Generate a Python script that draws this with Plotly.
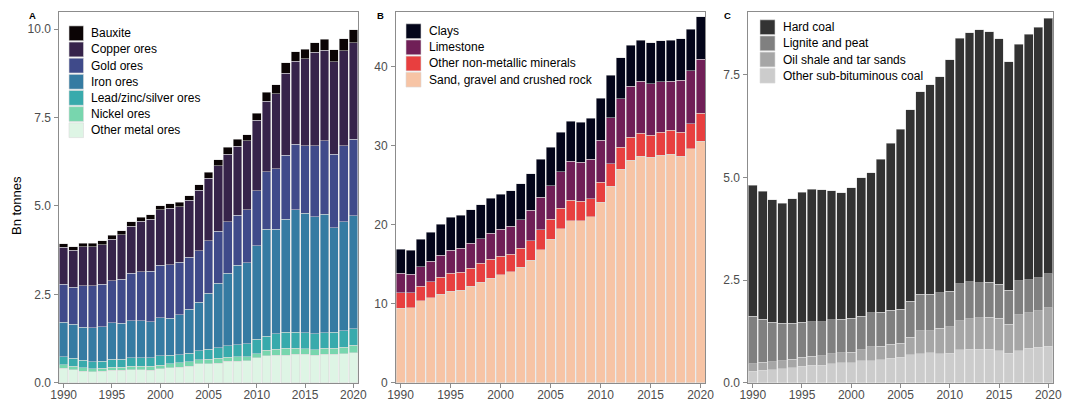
import plotly.graph_objects as go

# ---------------- data ----------------
years = list(range(1990, 2021))

# Panel A: metal ores (Bn tonnes)
metal_names = ["Bauxite", "Copper ores", "Gold ores", "Iron ores",
               "Lead/zinc/silver ores", "Nickel ores", "Other metal ores"]
bauxite = [0.10, 0.10, 0.11, 0.11, 0.10, 0.11, 0.11, 0.12, 0.11, 0.12, 0.11, 0.12, 0.12, 0.13, 0.15, 0.17,
           0.17, 0.19, 0.20, 0.18, 0.21, 0.25, 0.25, 0.30, 0.27, 0.27, 0.27, 0.31, 0.34, 0.34, 0.37]
copper = [1.04, 1.05, 1.09, 1.10, 1.12, 1.18, 1.26, 1.33, 1.43, 1.47, 1.57, 1.60, 1.57, 1.61, 1.72, 1.77,
          1.85, 1.92, 1.95, 1.95, 1.99, 2.00, 2.13, 2.32, 2.36, 2.46, 2.65, 2.57, 2.61, 2.69, 2.73]
gold = [1.08, 1.05, 1.18, 1.19, 1.21, 1.18, 1.25, 1.34, 1.38, 1.44, 1.48, 1.51, 1.49, 1.47, 1.45, 1.48,
        1.47, 1.45, 1.42, 1.50, 1.56, 1.63, 1.71, 1.80, 1.85, 1.91, 2.00, 2.07, 2.09, 2.15, 2.17]
iron = [0.97, 0.96, 0.93, 0.96, 0.98, 1.04, 1.02, 1.06, 1.06, 1.02, 1.08, 1.05, 1.13, 1.25, 1.38, 1.58,
        1.83, 2.05, 2.25, 2.29, 2.64, 3.02, 2.96, 3.20, 3.46, 3.37, 3.32, 3.36, 2.95, 3.08, 3.19]
lead_zinc_silver = [0.23, 0.23, 0.22, 0.19, 0.19, 0.22, 0.22, 0.24, 0.24, 0.24, 0.26, 0.24, 0.23, 0.24, 0.25, 0.29,
                    0.30, 0.33, 0.34, 0.36, 0.41, 0.40, 0.44, 0.45, 0.46, 0.46, 0.45, 0.43, 0.45, 0.46, 0.47]
nickel = [0.10, 0.10, 0.09, 0.09, 0.09, 0.09, 0.09, 0.09, 0.09, 0.11, 0.11, 0.12, 0.12, 0.13, 0.12, 0.12,
          0.14, 0.12, 0.13, 0.12, 0.12, 0.16, 0.17, 0.20, 0.17, 0.16, 0.16, 0.17, 0.18, 0.19, 0.21]
other_metal = [0.41, 0.36, 0.33, 0.31, 0.32, 0.35, 0.35, 0.37, 0.37, 0.35, 0.39, 0.42, 0.44, 0.46, 0.53, 0.54,
               0.55, 0.60, 0.60, 0.62, 0.70, 0.76, 0.77, 0.78, 0.80, 0.80, 0.77, 0.81, 0.80, 0.82, 0.85]
metal_colors = ["#0B0405", "#36234A", "#3F4A8A", "#357BA2", "#38AAAC", "#78D6AE", "#DEF5E5"]

# Panel B: non-metallic minerals (Bn tonnes)
mineral_names = ["Clays", "Limestone", "Other non-metallic minerals", "Sand, gravel and crushed rock"]
clays = [3.05, 2.99, 3.46, 3.71, 3.92, 4.18, 4.18, 4.26, 4.30, 4.39, 4.48, 4.48, 4.56, 4.65, 4.77, 4.89,
         4.98, 5.06, 5.06, 5.19, 5.27, 5.40, 5.19, 5.19, 5.19, 5.19, 5.19, 5.19, 5.23, 5.27, 5.36]
limestone = [2.45, 2.36, 2.45, 2.57, 2.78, 2.87, 2.99, 3.17, 3.13, 3.29, 3.38, 3.54, 3.63, 3.84, 4.13, 4.22,
             4.60, 4.98, 4.90, 4.98, 5.36, 5.83, 6.12, 6.41, 6.59, 6.54, 6.37, 6.16, 6.58, 6.71, 6.88]
other_nonmetallic = [1.95, 1.90, 1.85, 2.02, 2.19, 2.27, 2.28, 2.23, 2.36, 2.40, 2.36, 2.24, 2.40, 2.44, 2.51, 2.53,
                     2.62, 2.57, 2.48, 2.28, 2.53, 2.83, 2.83, 2.92, 2.91, 2.79, 2.95, 3.08, 3.08, 3.16, 3.50]
sand_gravel = [9.45, 9.50, 10.39, 10.77, 11.19, 11.61, 11.73, 12.24, 12.74, 13.25, 13.67, 14.05, 14.60, 15.53,
               16.86, 18.19, 19.49, 20.51, 20.51, 21.01, 22.83, 24.89, 27.00, 28.18, 28.69, 28.52, 28.78,
               28.90, 28.65, 29.62, 30.59]
mineral_colors = ["#03051A", "#701F57", "#E83F3F", "#F7C4A5"]

# Panel C: coal (Bn tonnes)
coal_names = ["Hard coal", "Lignite and peat", "Oil shale and tar sands", "Other sub-bituminous coal"]
hard_coal = [3.19, 3.11, 2.99, 2.92, 3.03, 3.17, 3.22, 3.21, 3.14, 3.07, 3.18, 3.37, 3.41, 3.72, 4.07, 4.38,
             4.67, 4.94, 5.10, 5.26, 5.64, 5.98, 6.06, 6.16, 6.10, 5.97, 5.56, 5.76, 5.98, 6.09, 6.23]
lignite_peat = [1.16, 1.05, 0.96, 0.91, 0.88, 0.85, 0.85, 0.83, 0.83, 0.82, 0.83, 0.82, 0.83, 0.83, 0.82, 0.83,
                0.87, 0.89, 0.89, 0.86, 0.87, 0.90, 0.90, 0.85, 0.85, 0.83, 0.83, 0.83, 0.81, 0.81, 0.82]
oil_shale = [0.18, 0.20, 0.19, 0.20, 0.20, 0.22, 0.22, 0.24, 0.24, 0.24, 0.25, 0.27, 0.33, 0.33, 0.35, 0.34,
             0.43, 0.55, 0.53, 0.62, 0.64, 0.71, 0.75, 0.77, 0.78, 0.79, 0.70, 0.87, 0.86, 0.89, 0.94]
sub_bituminous = [0.28, 0.30, 0.32, 0.34, 0.37, 0.40, 0.42, 0.42, 0.46, 0.49, 0.49, 0.53, 0.54, 0.56, 0.59, 0.62,
                  0.68, 0.71, 0.73, 0.71, 0.72, 0.80, 0.81, 0.81, 0.82, 0.78, 0.72, 0.78, 0.84, 0.86, 0.89]
coal_colors = ["#333333", "#808080", "#A6A6A6", "#CCCCCC"]

x_ticks = [1990, 1995, 2000, 2005, 2010, 2015, 2020]
a_ticks = [0, 2.5, 5, 7.5, 10]
a_ticktext = ["0.0", "2.5", "5.0", "7.5", "10.0"]
b_ticks = [0, 10, 20, 30, 40]
b_ticktext = ["0", "10", "20", "30", "40"]
c_ticks = [0, 2.5, 5, 7.5]
c_ticktext = ["0.0", "2.5", "5.0", "7.5"]

# ---------------- layout helpers ----------------
W, H = 1065, 403
FONT = "Liberation Sans, Arial, Helvetica, sans-serif"
LINE = "#8C8C8C"
TICKTXT = "#4D4D4D"
OUTLINE = "#DADADA"

def px(x):
    return x / W

def py(y):
    return (H - y) / H

panels = [
    dict(names=metal_names,
         values=[bauxite, copper, gold, iron, lead_zinc_silver, nickel, other_metal],
         colors=metal_colors, ax="x", ay="y", label="A",
         dom_x=(59.3, 357.7), yrange=[0, 10.48], yt=a_ticks, ytt=a_ticktext,
         key_x=(69.0, 83.5), key_c0=33.3, text_x=89.3, label_x=32.0),
    dict(names=mineral_names,
         values=[clays, limestone, other_nonmetallic, sand_gravel],
         colors=mineral_colors, ax="x2", ay="y2", label="B",
         dom_x=(396.0, 705.0), yrange=[0, 46.9], yt=b_ticks, ytt=b_ticktext,
         key_x=(406.0, 421.0), key_c0=31.2, text_x=427.3, label_x=380.5),
    dict(names=coal_names,
         values=[hard_coal, lignite_peat, oil_shale, sub_bituminous],
         colors=coal_colors, ax="x3", ay="y3", label="C",
         dom_x=(748.3, 1052.7), yrange=[0, 9.02], yt=c_ticks, ytt=c_ticktext,
         key_x=(760.0, 775.0), key_c0=27.2, text_x=781.0, label_x=727.0),
]

TOP, BOTTOM = 12.3, 382.7
ROW = 16.15

fig = go.Figure()
shapes = []
annotations = []
layout_axes = {}

for i, p in enumerate(panels):
    # stack bottom-up: reverse of legend order
    for name, vals, col in reversed(list(zip(p["names"], p["values"], p["colors"]))):
        fig.add_trace(go.Bar(
            x=years, y=vals, name=name, width=0.9,
            marker=dict(color=col, line=dict(color=OUTLINE, width=0.5)),
            xaxis=p["ax"], yaxis=p["ay"], showlegend=False,
            hovertemplate="%{x}: %{y:.2f} Bn t<extra>" + name + "</extra>",
        ))
    suffix = "" if i == 0 else str(i + 1)
    layout_axes["xaxis" + suffix] = dict(
        domain=[px(p["dom_x"][0]), px(p["dom_x"][1])],
        range=[1989.55, 2020.45], anchor="y" + suffix, automargin=False,
        tickvals=x_ticks, ticks="outside", ticklen=4, tickcolor=LINE,
        ticklabelstandoff=-3,
        tickfont=dict(family=FONT, size=12, color=TICKTXT),
        showline=True, linecolor=LINE, linewidth=1, mirror=True,
        showgrid=False, zeroline=False, fixedrange=True,
    )
    layout_axes["yaxis" + suffix] = dict(
        domain=[py(BOTTOM), py(TOP)],
        range=p["yrange"], anchor="x" + suffix, automargin=False,
        tickvals=p["yt"], ticktext=p["ytt"], ticks="outside", ticklen=4, tickcolor=LINE,
        ticklabelstandoff=1,
        tickfont=dict(family=FONT, size=12, color=TICKTXT),
        showline=True, linecolor=LINE, linewidth=1, mirror=True,
        showgrid=False, zeroline=False, fixedrange=True,
    )
    # manual legend (keys + real text)
    for j, (name, col) in enumerate(zip(p["names"], p["colors"])):
        c = p["key_c0"] + j * ROW
        shapes.append(dict(type="rect", xref="paper", yref="paper",
                           x0=px(p["key_x"][0]), x1=px(p["key_x"][1]),
                           y0=py(c + 7.4), y1=py(c - 7.4),
                           fillcolor=col, line=dict(color=OUTLINE, width=0.6)))
        annotations.append(dict(text=name, xref="paper", yref="paper",
                                x=px(p["text_x"]), y=py(c), xanchor="left", yanchor="middle",
                                showarrow=False,
                                font=dict(family=FONT, size=12, color="#000000")))
    # panel tag
    annotations.append(dict(text="<b>" + p["label"] + "</b>", xref="paper", yref="paper",
                            x=px(p["label_x"]), y=py(15.0), xanchor="center", yanchor="middle",
                            showarrow=False, font=dict(family=FONT, size=9.5, color="#000000")))

# y-axis title
annotations.append(dict(text="Bn tonnes", xref="paper", yref="paper", x=px(17.0), y=py(206.0),
                        xanchor="center", yanchor="middle", textangle=-90, showarrow=False,
                        font=dict(family=FONT, size=13, color="#000000")))

fig.update_layout(
    width=W, height=H, autosize=False,
    margin=dict(l=0, r=0, t=0, b=0, pad=0),
    paper_bgcolor="white", plot_bgcolor="white",
    barmode="stack", showlegend=False,
    font=dict(family=FONT, size=12, color="#000000"),
    shapes=shapes, annotations=annotations,
    **layout_axes,
)

fig.write_html("out.html",
               config={"displayModeBar": False},
               post_script="document.body.style.margin='0';document.body.style.overflow='hidden';")
